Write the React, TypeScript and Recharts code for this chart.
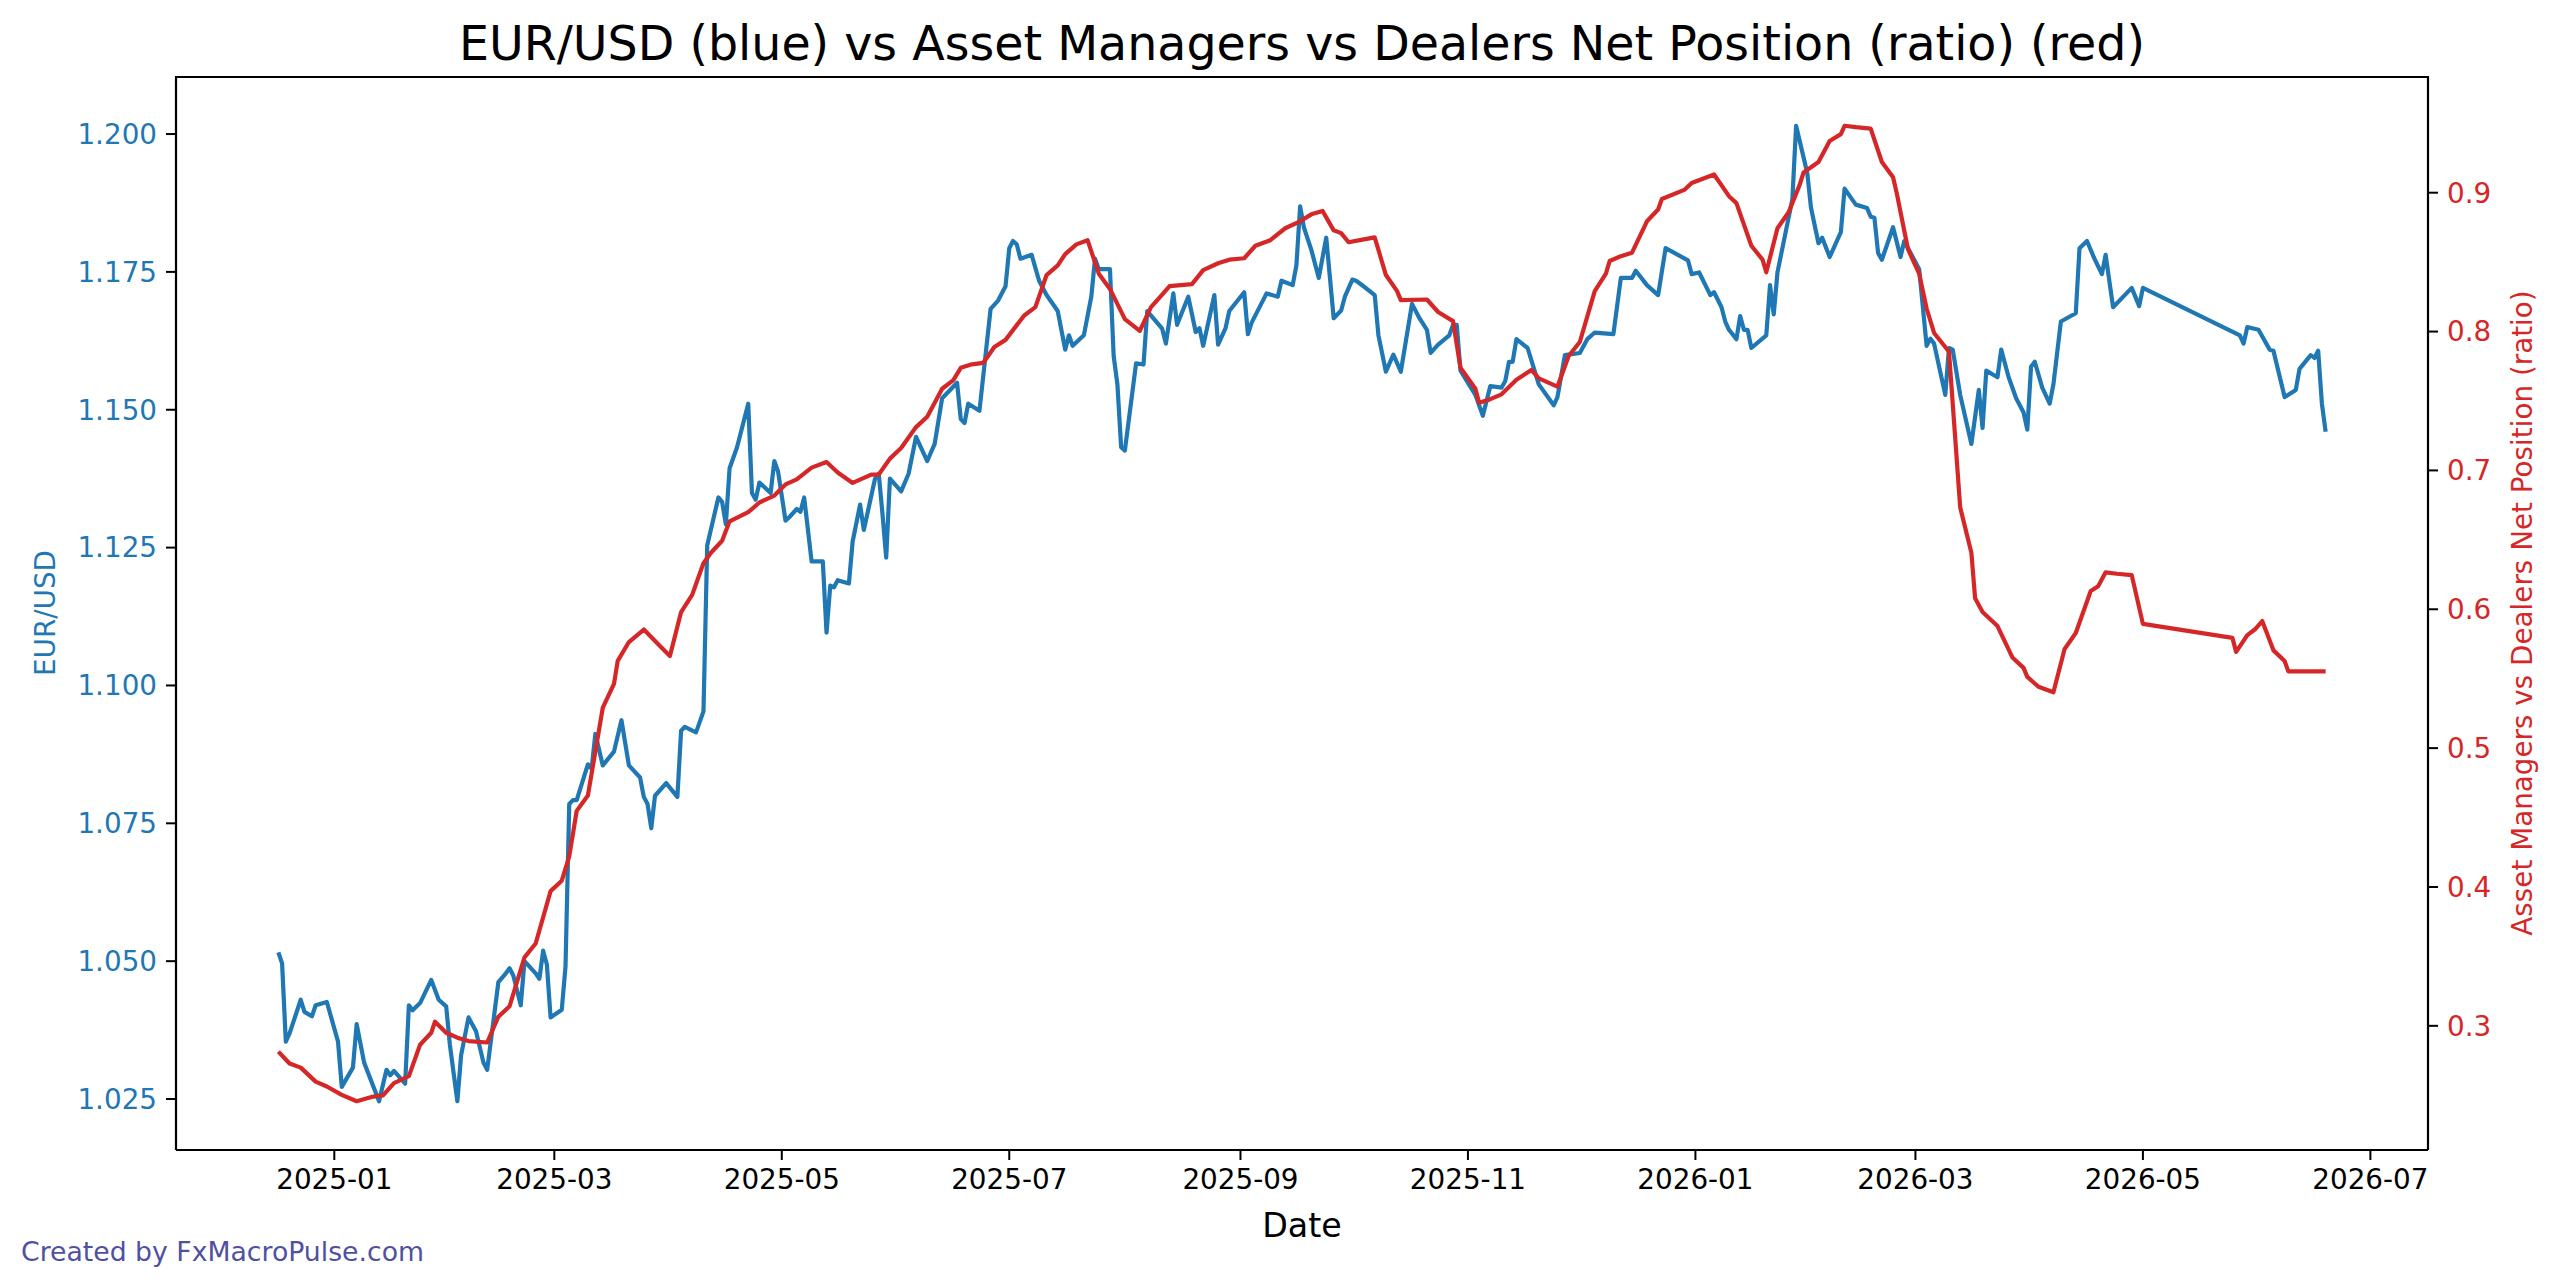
import React from 'react';
import { LineChart, Line, XAxis, YAxis } from 'recharts';

// x values are days counted from 2025-01-01
const eurDays = [
  -15, -14, -13, -12, -9, -8, -6, -5, -2, 1, 2, 5, 6, 8, 12, 14, 15, 16, 19, 20,
  21, 23, 26, 28, 30, 31, 33, 34, 36, 38, 40, 41, 44, 46, 47, 48, 50, 51, 54, 55,
  56, 57, 58, 61, 62, 63, 64, 65, 68, 69, 70, 72, 75, 77, 79, 82, 83, 84, 85, 86,
  89, 92, 93, 94, 97, 99, 100, 103, 104, 105, 106, 108, 111, 112, 113, 114, 117, 118, 119, 121,
  122, 124, 125, 126, 128, 131, 132, 133, 134, 135, 138, 139, 141, 142, 145, 146, 147, 148, 149, 152,
  154, 156, 159, 161, 163, 167, 168, 169, 170, 173, 176, 178, 180, 181, 182, 183, 184, 187, 189, 191,
  194, 196, 197, 198, 201, 203, 204, 205, 208, 209, 210, 211, 212, 215, 217, 218, 222, 223, 225, 226,
  229, 231, 232, 233, 236, 237, 239, 240, 244, 245, 246, 250, 253, 254, 257, 258, 259, 260, 262, 264,
  266, 268, 270, 271, 273, 274, 276, 279, 280, 282, 284, 286, 289, 291, 293, 294, 296, 299, 300, 301,
  302, 306, 308, 310, 313, 314, 315, 316, 317, 320, 321, 323, 327, 328, 330, 334, 336, 338, 343, 345,
  348, 349, 352, 355, 357, 363, 364, 366, 369, 370, 372, 373, 374, 376, 377, 378, 379, 380, 384, 385,
  386, 387, 391, 392, 395, 396, 398, 399, 401, 404, 405, 408, 411, 412, 413, 414, 415, 418, 420, 421,
  425, 427, 428, 429, 432, 433, 434, 436, 439, 441, 442, 443, 446, 447, 449, 451, 453, 454, 455, 456,
  458, 460, 461, 463, 467, 468, 470, 472, 474, 475, 477, 482, 484, 485, 511, 512, 513, 516, 519, 520,
  523, 526, 527, 530, 531, 532, 533, 534,
];
const eurUsd = [
  1.0516, 1.0496, 1.0354, 1.0369, 1.043, 1.0408, 1.04, 1.042, 1.0426, 1.0354, 1.0272, 1.0307, 1.0386, 1.0316, 1.0246, 1.0303, 1.0293, 1.0301, 1.0278, 1.042,
  1.0411, 1.0424, 1.0466, 1.043, 1.0418, 1.0348, 1.0246, 1.0329, 1.0398, 1.0373, 1.0316, 1.0303, 1.0462, 1.0478, 1.0487, 1.0474, 1.042, 1.05, 1.0478, 1.0468,
  1.0519, 1.0494, 1.0398, 1.0412, 1.049, 1.0785, 1.0792, 1.0792, 1.0857, 1.0849, 1.0912, 1.0855, 1.088, 1.0937, 1.0855, 1.0833, 1.0798, 1.0785, 1.0741, 1.08,
  1.0823, 1.0798, 1.0918, 1.0925, 1.0915, 1.0953, 1.1254, 1.1341, 1.1333, 1.1292, 1.1394, 1.1432, 1.1511, 1.1349, 1.1337, 1.1368, 1.1349, 1.1407, 1.1388, 1.1299,
  1.1305, 1.132, 1.1315, 1.1341, 1.1225, 1.1225, 1.1096, 1.1181, 1.1178, 1.1191, 1.1185, 1.1261, 1.1328, 1.1282, 1.1375, 1.1384, 1.1311, 1.1232, 1.1375, 1.1352,
  1.1384, 1.1451, 1.1407, 1.1438, 1.1521, 1.1549, 1.1483, 1.1476, 1.1511, 1.1498, 1.1683, 1.1698, 1.1724, 1.1793, 1.1806, 1.18, 1.1774, 1.1781, 1.1734, 1.1708,
  1.1679, 1.1609, 1.1635, 1.1616, 1.1635, 1.1705, 1.1774, 1.1755, 1.1755, 1.1597, 1.1546, 1.1432, 1.1426, 1.1584, 1.1582, 1.1679, 1.1647, 1.162, 1.1711, 1.1654,
  1.1705, 1.1641, 1.1648, 1.1616, 1.1708, 1.1618, 1.1648, 1.1679, 1.1713, 1.1637, 1.1658, 1.1711, 1.1705, 1.1734, 1.1726, 1.1762, 1.1869, 1.1831, 1.179, 1.1739,
  1.1812, 1.1666, 1.168, 1.1705, 1.1736, 1.1734, 1.1724, 1.1708, 1.1635, 1.1569, 1.16, 1.1569, 1.1692, 1.1666, 1.1645, 1.1603, 1.1618, 1.1635, 1.1654, 1.1654,
  1.1571, 1.1527, 1.1489, 1.1543, 1.154, 1.1552, 1.1587, 1.1587, 1.1628, 1.1612, 1.159, 1.1546, 1.1508, 1.1523, 1.1599, 1.1603, 1.1628, 1.164, 1.1637, 1.1739,
  1.1739, 1.1752, 1.1726, 1.1708, 1.1793, 1.1771, 1.1746, 1.1749, 1.1708, 1.1713, 1.1686, 1.166, 1.1645, 1.1628, 1.167, 1.1645, 1.1645, 1.1612, 1.1635, 1.1726,
  1.1673, 1.1749, 1.1882, 1.2015, 1.1929, 1.1866, 1.1802, 1.1812, 1.1777, 1.1822, 1.1901, 1.1872, 1.1866, 1.185, 1.1848, 1.1784, 1.1772, 1.1831, 1.1777, 1.1806,
  1.1755, 1.1616, 1.1629, 1.162, 1.1527, 1.1612, 1.1609, 1.1527, 1.1438, 1.1536, 1.1467, 1.1571, 1.1559, 1.1609, 1.1559, 1.1521, 1.1495, 1.1464, 1.1578, 1.1587,
  1.154, 1.1511, 1.1546, 1.166, 1.1675, 1.1793, 1.1806, 1.1774, 1.1746, 1.1781, 1.1686, 1.1721, 1.1688, 1.1721, 1.1635, 1.162, 1.165, 1.1645, 1.1609, 1.1607,
  1.1523, 1.1536, 1.1574, 1.1599, 1.1594, 1.1607, 1.1511, 1.146,
];

const ratioDays = [
  -15, -12, -9, -5, -2, 2, 6, 10, 13, 16, 20, 23, 26, 27, 30, 33, 36, 41, 44, 47,
  51, 54, 58, 61, 63, 65, 68, 72, 75, 76, 79, 83, 87, 90, 93, 96, 99, 101, 104, 106,
  111, 114, 118, 121, 124, 128, 132, 135, 139, 144, 146, 149, 152, 156, 159, 163, 166, 168, 171, 174,
  177, 180, 185, 188, 191, 194, 196, 199, 202, 205, 208, 212, 216, 219, 222, 224, 230, 233, 237, 240,
  244, 247, 251, 255, 259, 262, 265, 268, 270, 272, 275, 279, 282, 285, 286, 293, 296, 300, 302, 306,
  307, 310, 313, 317, 321, 323, 328, 331, 334, 338, 341, 342, 345, 348, 352, 355, 356, 362, 364, 370,
  374, 376, 380, 383, 384, 387, 390, 393, 394, 398, 401, 404, 405, 408, 412, 415, 418, 419, 422, 425,
  427, 429, 432, 433, 436, 439, 440, 442, 446, 450, 453, 454, 457, 461, 464, 467, 471, 473, 475, 478,
  482, 485, 509, 510, 513, 515, 517, 520, 523, 524, 534,
];
const ratioValues = [
  0.2814, 0.2729, 0.2699, 0.2598, 0.2563, 0.2503, 0.2457, 0.2488, 0.2498, 0.2588, 0.2638, 0.2864, 0.295, 0.303, 0.295, 0.2915, 0.289, 0.288, 0.3066, 0.3141,
  0.3493, 0.3593, 0.397, 0.4045, 0.422, 0.4548, 0.4658, 0.5292, 0.5462, 0.5628, 0.5764, 0.5854, 0.5744, 0.5663, 0.598, 0.6106, 0.6332, 0.6407, 0.6493, 0.6633,
  0.6699, 0.6769, 0.6819, 0.6899, 0.6935, 0.702, 0.706, 0.6985, 0.691, 0.697, 0.697, 0.7085, 0.7161, 0.7312, 0.7387, 0.7588, 0.765, 0.7739, 0.7764, 0.7774,
  0.7889, 0.794, 0.8116, 0.8176, 0.8407, 0.8477, 0.8558, 0.8628, 0.8658, 0.8417, 0.8307, 0.809, 0.8005, 0.8176, 0.8266, 0.8327, 0.8342, 0.8442, 0.8492, 0.8518,
  0.8528, 0.8618, 0.8658, 0.8744, 0.8794, 0.8844, 0.8869, 0.8729, 0.8709, 0.8643, 0.8658, 0.8678, 0.8407, 0.8291, 0.8226, 0.8231, 0.8141, 0.8075, 0.7739, 0.7588,
  0.7487, 0.7513, 0.7548, 0.7653, 0.7724, 0.7663, 0.7603, 0.7824, 0.7925, 0.8291, 0.8417, 0.8508, 0.8543, 0.8568, 0.8794, 0.8879, 0.8955, 0.902, 0.907, 0.9131,
  0.8975, 0.8925, 0.8618, 0.8518, 0.8427, 0.8744, 0.8859, 0.906, 0.9146, 0.9221, 0.9372, 0.9422, 0.9482, 0.9472, 0.9462, 0.9221, 0.9111, 0.8995, 0.8593, 0.8417,
  0.8166, 0.799, 0.7889, 0.7854, 0.6734, 0.6407, 0.608, 0.598, 0.5879, 0.5653, 0.5578, 0.5513, 0.5442, 0.5402, 0.5714, 0.5829, 0.6131, 0.6166, 0.6266, 0.6256,
  0.6246, 0.5895, 0.5794, 0.5693, 0.5814, 0.5854, 0.5915, 0.5704, 0.5628, 0.5553, 0.5553,
];

const monthTicks = ['2025-01', '2025-03', '2025-05', '2025-07', '2025-09', '2025-11', '2026-01', '2026-03', '2026-05', '2026-07'];
const eurTicks = [1.025, 1.05, 1.075, 1.1, 1.125, 1.15, 1.175, 1.2];
const ratioTicks = [0.3, 0.4, 0.5, 0.6, 0.7, 0.8, 0.9];

const BLUE = '#1f77b4';
const RED = '#d62728';
const FONT = '"DejaVu Sans", sans-serif';

// plot box (pixels)
const PLOT = { left: 176, top: 77, right: 2428, bottom: 1150 };

const BASE = Date.UTC(2025, 0, 1);
const monthToDay = (ym: string) => {
  const [y, m] = ym.split('-').map(Number);
  return (Date.UTC(y, m - 1, 1) - BASE) / 86400000;
};

// same 5% margins matplotlib adds around the data
const padded = (vals: number[]): [number, number] => {
  const lo = Math.min(...vals);
  const hi = Math.max(...vals);
  const p = (hi - lo) * 0.05;
  return [lo - p, hi + p];
};

const eurData = eurDays.map((d, i) => ({ d, v: eurUsd[i] }));
const ratioData = ratioDays.map((d, i) => ({ d, v: ratioValues[i] }));
const xDomain = padded([...eurDays, ...ratioDays]);
const xTicks = monthTicks.map(monthToDay);

const App: React.FC = () => {
  return (
    <div style={{ position: 'absolute', left: 0, top: 0, width: 2560, height: 1288, background: '#fff', fontFamily: FONT }}>
      <LineChart
        width={2560}
        height={1288}
        margin={{ top: PLOT.top, right: 2560 - PLOT.right - 100, bottom: 1288 - PLOT.bottom - 60, left: PLOT.left - 100 }}
        style={{ fontFamily: FONT }}
      >
        <XAxis
          dataKey="d"
          type="number"
          domain={xDomain}
          allowDataOverflow
          ticks={xTicks}
          interval={0}
          tickFormatter={(d: number) => monthTicks[xTicks.indexOf(d)] ?? ''}
          height={60}
          tickSize={10}
          tickMargin={9}
          axisLine={{ stroke: '#000', strokeWidth: 2.2 }}
          tickLine={{ stroke: '#000', strokeWidth: 2 }}
          tick={{ fill: '#000', fontSize: 27.8, fontFamily: FONT }}
        />
        <YAxis
          yAxisId="eur"
          orientation="left"
          type="number"
          domain={padded(eurUsd)}
          allowDataOverflow
          ticks={eurTicks}
          interval={0}
          tickFormatter={(v: number) => v.toFixed(3)}
          width={100}
          tickSize={10}
          tickMargin={9}
          axisLine={{ stroke: '#000', strokeWidth: 2.2 }}
          tickLine={{ stroke: '#000', strokeWidth: 2 }}
          tick={{ fill: BLUE, fontSize: 27.8, fontFamily: FONT }}
        />
        <YAxis
          yAxisId="ratio"
          orientation="right"
          type="number"
          domain={padded(ratioValues)}
          allowDataOverflow
          ticks={ratioTicks}
          interval={0}
          tickFormatter={(v: number) => v.toFixed(1)}
          width={100}
          tickSize={10}
          tickMargin={9}
          axisLine={{ stroke: '#000', strokeWidth: 2.2 }}
          tickLine={{ stroke: '#000', strokeWidth: 2 }}
          tick={{ fill: RED, fontSize: 27.8, fontFamily: FONT }}
        />
        <Line
          yAxisId="eur"
          data={eurData}
          dataKey="v"
          type="linear"
          stroke={BLUE}
          strokeWidth={4.2}
          strokeLinejoin="round"
          dot={false}
          activeDot={false}
          isAnimationActive={false}
        />
        <Line
          yAxisId="ratio"
          data={ratioData}
          dataKey="v"
          type="linear"
          stroke={RED}
          strokeWidth={4.2}
          strokeLinejoin="round"
          dot={false}
          activeDot={false}
          isAnimationActive={false}
        />
      </LineChart>

      <svg width={2560} height={1288} style={{ position: 'absolute', left: 0, top: 0, pointerEvents: 'none' }} fontFamily={FONT}>
        <line x1={PLOT.left - 1} x2={PLOT.right + 1} y1={PLOT.top} y2={PLOT.top} stroke="#000" strokeWidth={2.2} />
        <text x={(PLOT.left + PLOT.right) / 2} y={60} textAnchor="middle" fontSize={47.5} fill="#000">
          EUR/USD (blue) vs Asset Managers vs Dealers Net Position (ratio) (red)
        </text>
        <text x={(PLOT.left + PLOT.right) / 2} y={1237} textAnchor="middle" fontSize={33.3} fill="#000">
          Date
        </text>
        <text x={45} y={613} textAnchor="middle" dominantBaseline="central" fontSize={27.8} fill={BLUE} transform="rotate(-90 45 613)">
          EUR/USD
        </text>
        <text x={2522} y={613} textAnchor="middle" dominantBaseline="central" fontSize={27.8} fill={RED} transform="rotate(-90 2522 613)">
          Asset Managers vs Dealers Net Position (ratio)
        </text>
        <text x={21} y={1261} fontSize={26.7} fill="#5050a2">
          Created by FxMacroPulse.com
        </text>
      </svg>
    </div>
  );
};

export default App;
